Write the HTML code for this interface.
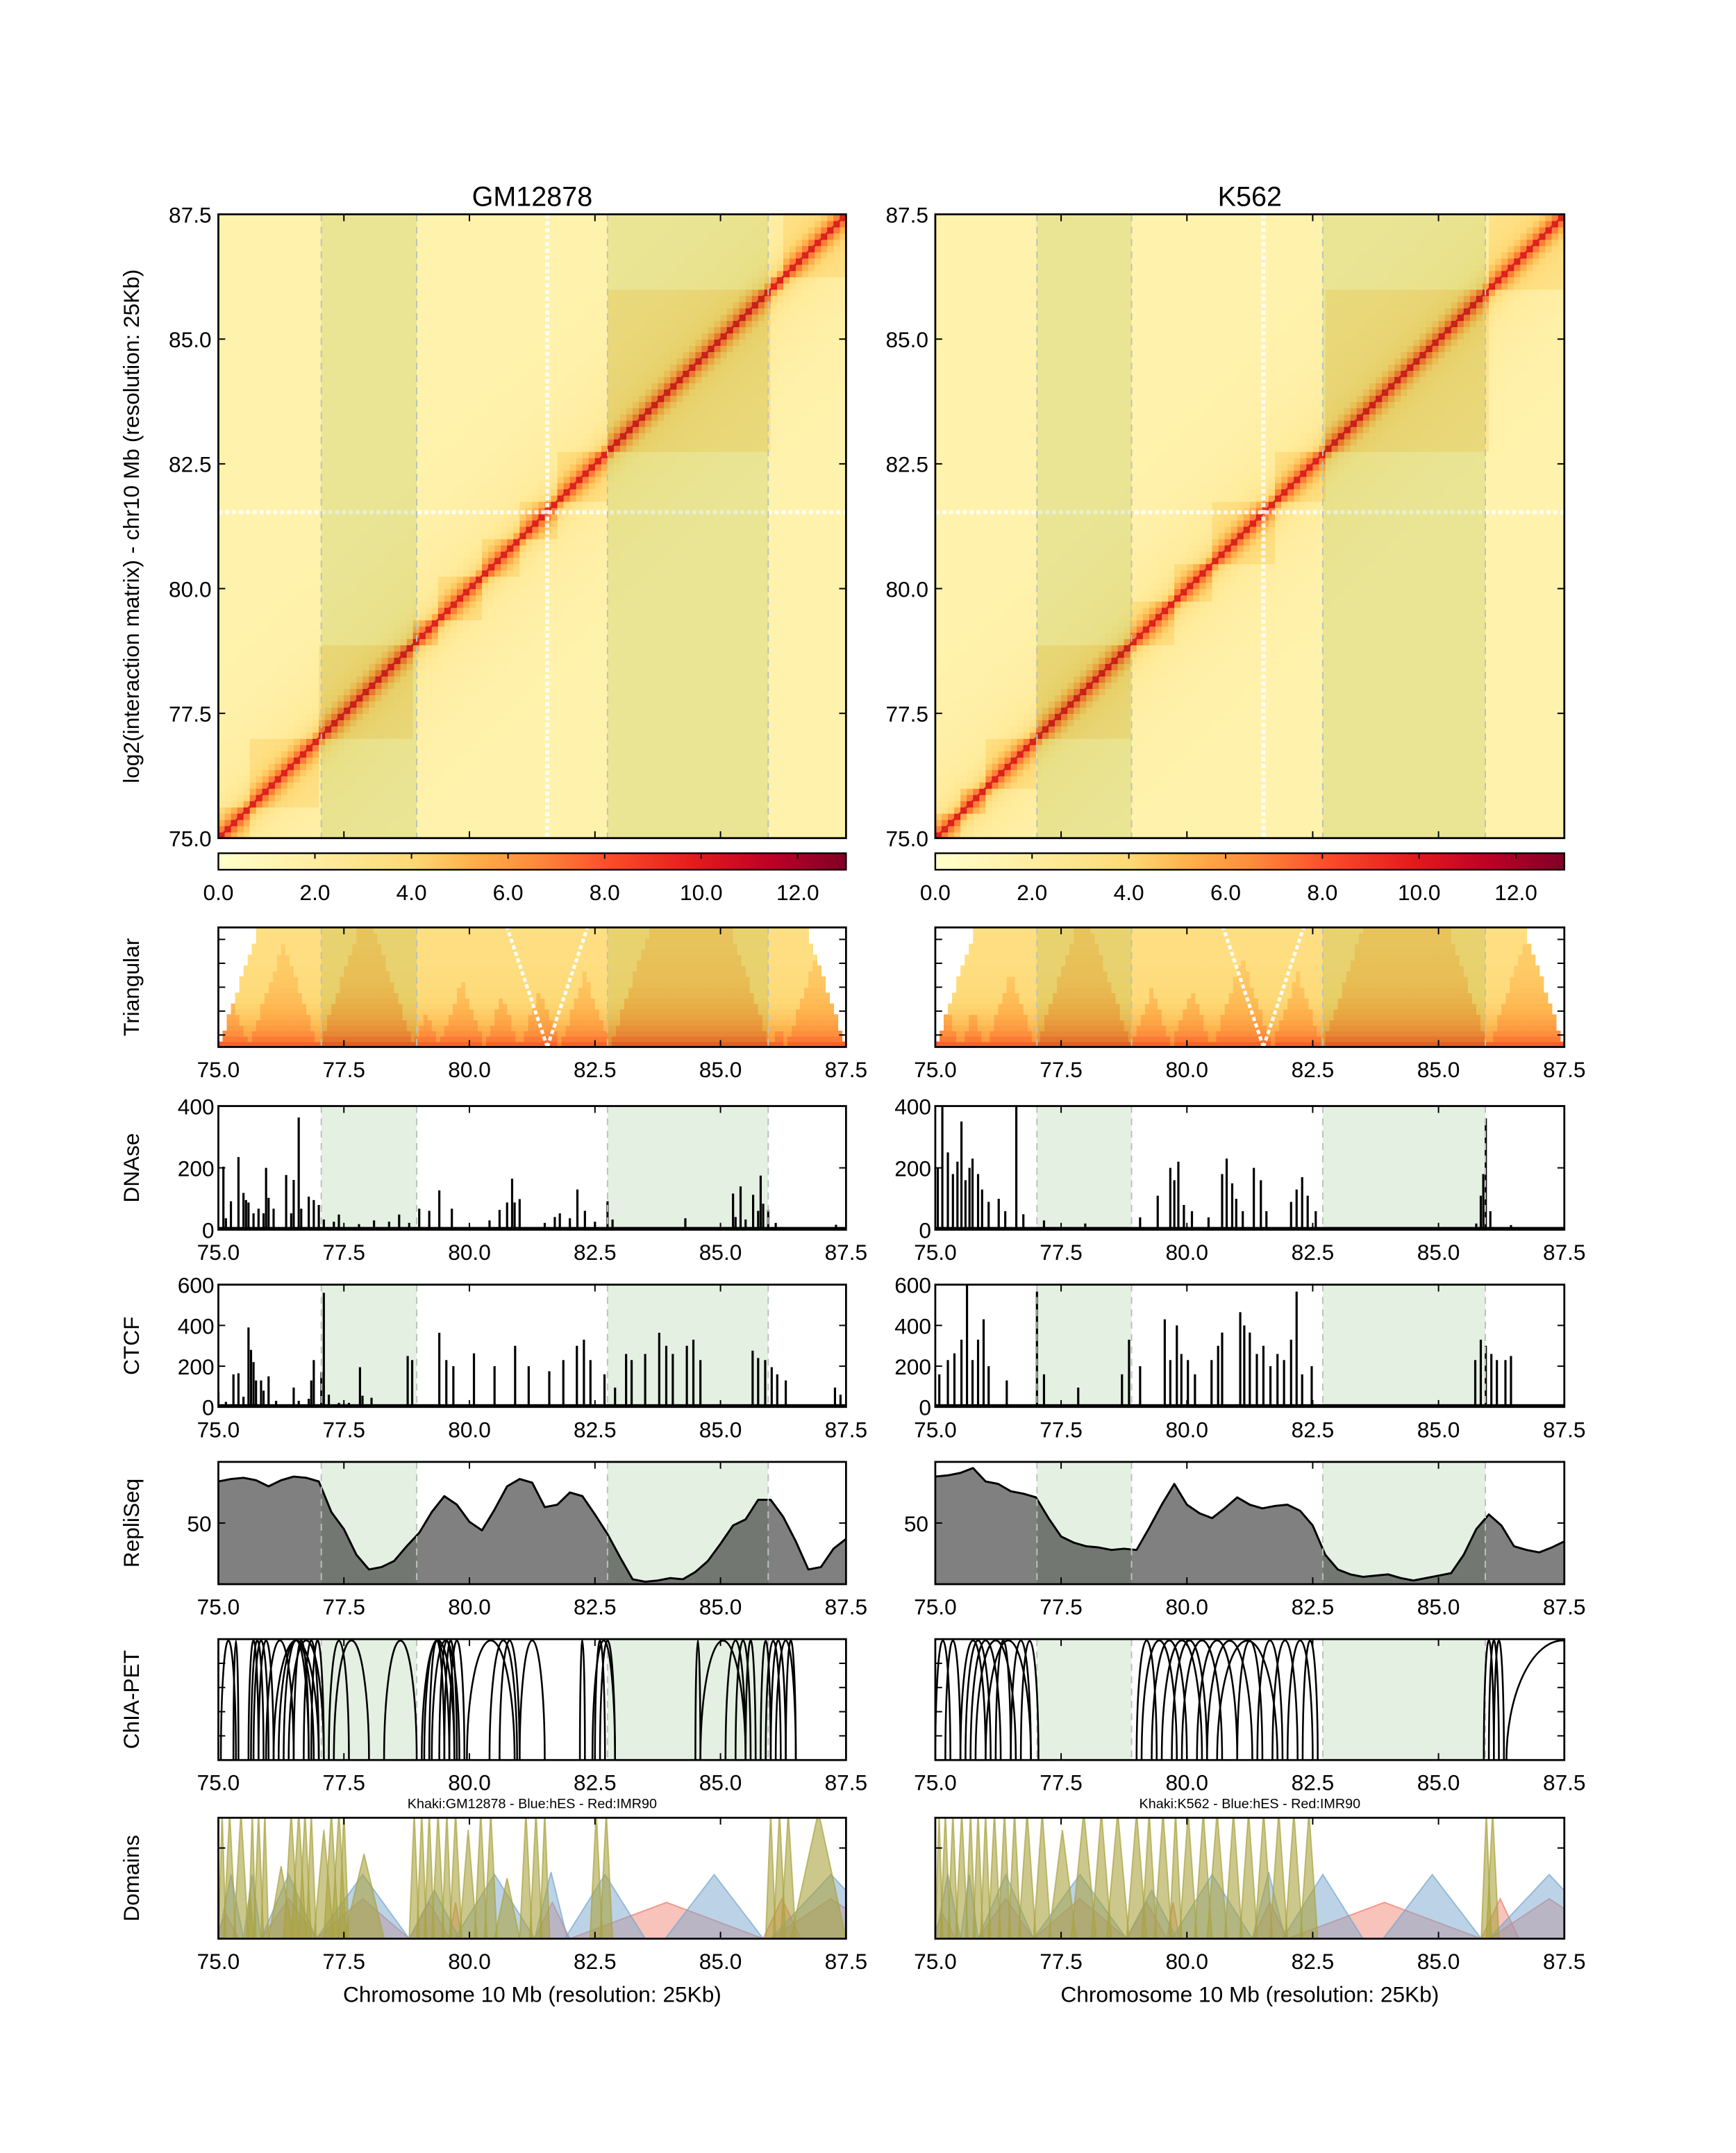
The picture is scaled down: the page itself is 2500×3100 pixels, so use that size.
<!DOCTYPE html>
<html><head><meta charset="utf-8">
<style>
html,body{margin:0;padding:0;background:#fff;}
svg{display:block;font-family:"Liberation Sans",Arial,sans-serif;}
</style></head>
<body>
<svg id="fig" xmlns="http://www.w3.org/2000/svg" width="2500" height="3100" viewBox="0 0 1264 1567" preserveAspectRatio="none">
<defs>
<linearGradient id="cbar" x1="0" x2="1" y1="0" y2="0">
<stop offset="0" stop-color="#ffffcc"/><stop offset="0.154" stop-color="#ffeda0"/><stop offset="0.308" stop-color="#fed976"/><stop offset="0.4" stop-color="#feb24c"/><stop offset="0.5" stop-color="#fd8d3c"/><stop offset="0.62" stop-color="#fc4e2a"/><stop offset="0.76" stop-color="#e31a1c"/><stop offset="0.88" stop-color="#bd0026"/><stop offset="1" stop-color="#800026"/>
</linearGradient>
</defs>
</svg>
<script>
// ---------------- data ----------------
const ticksMb = [75.0, 77.5, 80.0, 82.5, 85.0, 87.5];
const cbarTicks = [0, 2, 4, 6, 8, 10, 12];
const bandsGM = [[77.05, 78.95], [82.75, 85.95]];
const bandsK = [[77.02, 78.9], [82.7, 85.93]];
const tadsGM = [75.0, 75.6, 77.0, 78.9, 79.4, 80.3, 81.0, 81.8, 82.8, 86.0, 86.3, 87.5];
const tadsK = [75.0, 75.5, 76.0, 77.0, 78.9, 79.7, 80.5, 81.7, 82.7, 86.0, 87.5];
const stripeGM = [81.55, 81.53];
const stripeK = [81.52, 81.53];

const dnaseGMPos = [75.1,75.15,75.25,75.4,75.5,75.55,75.6,75.7,75.8,75.9,75.95,76.0,76.1,76.35,76.45,76.5,76.6,76.65,76.8,76.9,77.0,77.1,77.3,77.4,77.8,78.1,78.4,78.6,78.8,79.0,79.2,79.4,79.65,80.4,80.6,80.75,80.85,80.9,81.0,81.5,81.7,81.8,82.0,82.15,82.3,82.5,82.75,82.85,84.3,85.25,85.3,85.4,85.5,85.65,85.75,85.8,85.85,85.95,86.1,87.3];
const dnaseGMVal = [204,37,92,235,119,96,88,53,68,53,200,103,68,177,53,161,363,68,107,96,80,33,26,49,18,30,26,49,22,68,61,127,68,30,64,88,165,88,99,22,41,53,37,130,61,26,92,33,37,117,41,140,33,113,61,175,84,64,22,16];
const dnaseKPos = [75.05,75.14,75.25,75.35,75.44,75.52,75.6,75.68,75.74,75.85,75.93,76.06,76.26,76.39,76.61,76.75,77.16,77.98,79.07,79.42,79.67,79.75,79.83,79.94,80.1,80.43,80.7,80.79,80.9,80.98,81.11,81.33,81.47,81.58,82.07,82.18,82.29,82.4,82.56,85.75,85.84,85.89,85.94,86.03,86.44];
const dnaseKVal = [200,400,250,180,220,350,160,200,230,180,130,90,100,60,400,50,30,20,40,110,200,160,220,80,60,40,180,230,150,100,60,200,160,60,90,130,170,110,60,20,110,180,360,60,15];

const ctcfGMPos = [75.0,75.15,75.3,75.4,75.5,75.6,75.65,75.7,75.75,75.85,75.9,76.0,76.15,76.5,76.6,76.8,76.85,76.9,77.05,77.1,77.2,77.4,77.6,77.82,77.87,78.05,78.77,78.86,79.4,79.54,79.68,80.09,80.5,80.91,81.18,81.59,81.87,82.14,82.28,82.41,82.69,82.9,83.12,83.23,83.5,83.78,83.92,84.05,84.33,84.46,84.6,85.64,85.75,85.89,86.02,86.13,86.3,87.28,87.39];
const ctcfGMVal = [70,25,160,165,50,390,280,220,130,130,80,150,30,95,30,40,130,230,170,560,60,20,20,195,55,45,250,230,364,230,200,263,200,300,200,175,230,300,330,230,160,95,260,230,260,364,300,260,300,330,230,276,240,230,195,160,130,95,60];
const ctcfKPos = [75.08,75.25,75.38,75.52,75.63,75.74,75.85,75.96,76.06,76.42,77.02,77.16,77.84,78.71,78.85,79.07,79.56,79.67,79.8,79.89,80.02,80.16,80.49,80.62,80.7,81.06,81.14,81.25,81.39,81.52,81.66,81.8,81.93,82.07,82.18,82.29,82.48,85.73,85.84,85.94,86.05,86.16,86.33,86.44];
const ctcfKVal = [160,230,263,330,600,230,330,430,200,130,566,160,95,160,330,200,430,230,400,260,230,160,230,300,365,465,400,365,260,300,200,260,230,330,566,160,200,230,330,300,260,230,230,250];

const repliPos = [75.0,75.25,75.5,75.75,76.0,76.25,76.5,76.75,77.0,77.25,77.5,77.75,78.0,78.25,78.5,78.75,79.0,79.25,79.5,79.75,80.0,80.25,80.5,80.75,81.0,81.25,81.5,81.75,82.0,82.25,82.5,82.75,83.0,83.25,83.5,83.75,84.0,84.25,84.5,84.75,85.0,85.25,85.5,85.75,86.0,86.25,86.5,86.75,87.0,87.25,87.5];
const repliGM = [84,86,87,85,80,85,88,87,84,59,45,24,12,14,19,31,42,59,72,65,51,44,61,80,86,83,63,65,75,72,57,41,22,4,2,3,5,4,10,19,33,48,53,69,69,55,35,12,14,29,37];
const repliK = [88,89,91,95,84,82,76,74,71,54,39,34,31,30,28,29,28,46,65,82,65,58,54,62,71,65,62,64,65,60,48,24,12,8,6,7,8,5,3,5,7,9,24,45,57,48,31,28,26,30,35];

const chiaGM = [[75.05,75.35],[75.3,75.4],[75.6,75.8],[75.65,75.9],[75.7,76.0],[75.8,76.1],[75.95,76.5],[76.1,77.0],[76.2,76.9],[76.3,76.8],[76.4,77.1],[76.5,76.8],[76.7,77.0],[76.85,77.1],[77.2,77.6],[77.3,78.0],[78.3,78.95],[79.05,79.7],[79.1,79.6],[79.2,79.5],[79.25,79.8],[79.4,79.7],[79.5,79.75],[79.6,79.9],[79.95,80.9],[80.4,80.95],[80.6,81.0],[81.0,81.5],[82.2,82.3],[82.45,82.9],[82.5,82.7],[82.6,82.9],[84.5,84.6],[84.6,85.5],[85.1,85.5],[85.3,85.6],[85.5,85.7],[85.8,86.0],[85.9,86.2],[86.0,86.3],[86.1,86.5],[86.3,86.5]];
const chiaK = [[75.0,75.3],[75.2,75.5],[75.5,76.0],[75.6,76.1],[75.7,76.3],[75.8,76.6],[76.0,76.9],[76.2,76.5],[76.5,76.9],[76.7,77.05],[79.0,79.4],[79.1,79.8],[79.3,80.0],[79.5,80.3],[79.7,80.4],[79.9,80.7],[80.2,81.0],[80.4,81.3],[80.6,81.8],[81.0,81.5],[81.4,81.9],[81.7,82.2],[82.0,82.5],[82.3,82.6],[85.9,86.1],[86.0,86.2],[86.1,86.3],[86.35,88.6]];

const khakiGM = [[75.0,75.15,1.05],[75.1,75.35,1.05],[75.3,75.6,1.05],[75.55,75.7,0.4],[75.6,75.75,1.05],[75.7,75.9,1.05],[75.85,76.0,1.05],[76.0,76.5,0.6],[76.3,76.6,1.05],[76.45,76.75,1.05],[76.6,76.85,1.05],[76.75,76.95,1.05],[76.9,77.3,0.9],[77.1,77.4,1.05],[77.25,77.55,1.05],[77.4,77.6,1.05],[77.5,78.3,0.7],[78.8,79.0,1.05],[78.95,79.15,1.05],[79.1,79.3,1.05],[79.25,79.5,1.05],[79.45,79.65,1.05],[79.6,79.85,1.05],[79.8,80.15,0.9],[80.1,80.35,1.05],[80.3,80.55,1.05],[80.5,81.0,0.5],[81.0,81.25,1.05],[81.2,81.45,1.05],[81.4,81.6,1.05],[82.4,82.65,1.05],[82.6,82.85,1.05],[85.9,86.1,1.05],[86.05,86.3,1.05],[86.2,86.5,1.05],[86.4,87.5,1.05]];
const khakiK = [[75.0,75.15,1.05],[75.1,75.3,1.05],[75.25,75.45,1.05],[75.4,75.65,1.05],[75.6,75.8,1.05],[75.75,75.95,1.05],[75.9,76.1,1.05],[76.05,76.3,1.05],[76.25,76.5,1.05],[76.45,76.7,1.05],[76.65,77.0,1.05],[76.95,77.3,1.05],[77.25,77.8,0.9],[77.7,78.2,1.05],[78.1,78.5,1.05],[78.4,78.85,1.05],[78.8,79.2,1.05],[79.1,79.4,1.05],[79.35,79.7,1.05],[79.65,79.9,1.05],[79.85,80.2,1.05],[80.15,80.5,1.05],[80.4,80.8,1.05],[80.75,81.1,1.05],[81.05,81.4,1.05],[81.35,81.7,1.05],[81.65,82.0,1.05],[81.95,82.3,1.05],[82.25,82.6,1.05],[85.85,86.05,1.05],[85.95,86.2,1.05]];
const blueDom = [[75.0,75.5,0.53],[75.5,75.85,0.53],[75.85,76.95,0.53],[76.95,78.8,0.53],[78.8,79.8,0.4],[79.7,81.3,0.53],[81.3,81.95,0.55],[81.9,83.5,0.53],[83.9,85.85,0.53],[86.0,88.4,0.53]];
const redDom = [[74.9,75.4,0.2],[75.85,76.95,0.33],[76.95,78.8,0.33],[78.8,79.6,0.3],[79.6,79.85,0.3],[81.3,82.0,0.3],[82.0,85.85,0.3],[85.85,86.6,0.33],[86.0,88.4,0.33]];

// ---------------- layout ----------------
const NS = 'http://www.w3.org/2000/svg';
const svg = document.getElementById('fig');
function el(tag, attrs, parent) {
  const e = document.createElementNS(NS, tag);
  for (const k in attrs) e.setAttribute(k, attrs[k]);
  (parent || svg).appendChild(e);
  return e;
}
function txt(s, x, y, size, anchor, parent) {
  const t = el('text', {x: x, y: y, 'font-size': size, 'text-anchor': anchor || 'middle', fill: '#000'}, parent);
  t.textContent = s;
  return t;
}
const stops = [[0,[255,255,204]],[2,[255,237,160]],[4,[254,217,118]],[5.2,[254,178,76]],[6.5,[253,141,60]],[8,[252,78,42]],[9.9,[227,26,28]],[11.4,[189,0,38]],[13,[128,0,38]]];
function color(v) {
  v = Math.max(0, Math.min(13, v));
  for (let i = 1; i < stops.length; i++) {
    if (v <= stops[i][0]) {
      const a = stops[i-1], b = stops[i], t = (v - a[0]) / (b[0] - a[0]);
      return 'rgb(' + [0,1,2].map(k => Math.round(a[1][k] + t * (b[1][k] - a[1][k]))).join(',') + ')';
    }
  }
  return 'rgb(128,0,38)';
}
function tadIndex(m, tads) { for (let i = 1; i < tads.length; i++) if (m <= tads[i]) return i; return tads.length - 1; }
function hic(a, b, tads) {
  const d = Math.abs(a - b);
  let v = 1.4 + 5.8 * Math.exp(-d / 0.18) + 1.4 * Math.exp(-d / 1.2);
  if (tadIndex(a, tads) === tadIndex(b, tads)) v += 1.3;
  return v;
}
function tri(a, b, tads) {
  const d = Math.abs(a - b);
  let v = 3.4 + 3.6 * Math.exp(-d / 0.35);
  if (tadIndex(a, tads) === tadIndex(b, tads)) v += 0.9;
  return v;
}

const panels = [
  {key: 'gm', title: 'GM12878', x0: 159, x1: 616, tads: tadsGM, bands: bandsGM, stripe: stripeGM,
   dPos: dnaseGMPos, dVal: dnaseGMVal, cPos: ctcfGMPos, cVal: ctcfGMVal, repli: repliGM, chia: chiaGM, khaki: khakiGM, caption: 'Khaki:GM12878 - Blue:hES - Red:IMR90'},
  {key: 'k562', title: 'K562', x0: 681, x1: 1139, tads: tadsK, bands: bandsK, stripe: stripeK,
   dPos: dnaseKPos, dVal: dnaseKVal, cPos: ctcfKPos, cVal: ctcfKVal, repli: repliK, chia: chiaK, khaki: khakiK, caption: 'Khaki:K562 - Blue:hES - Red:IMR90'}
];
const HM = [156, 610], CB = [621, 633];
const tracks = {tri: [675, 762], dnase: [805, 895], ctcf: [935, 1024], repli: [1064, 1153], chia: [1193, 1281], dom: [1323, 1411]};

let clipId = 0;
function clip(x0, y0, x1, y1) {
  const id = 'c' + (clipId++);
  const cp = el('clipPath', {id: id});
  el('rect', {x: x0, y: y0, width: x1 - x0, height: y1 - y0}, cp);
  return 'url(#' + id + ')';
}
function frame(g, x0, y0, x1, y1, xt, yt) {
  el('rect', {x: x0, y: y0, width: x1 - x0, height: y1 - y0, fill: 'none', stroke: '#000', 'stroke-width': 1.4}, g);
  const xs = m => x0 + (m - 75) / 12.5 * (x1 - x0);
  if (xt) ticksMb.forEach(m => {
    el('line', {x1: xs(m), x2: xs(m), y1: y1, y2: y1 - 5, stroke: '#000', 'stroke-width': 1}, g);
    el('line', {x1: xs(m), x2: xs(m), y1: y0, y2: y0 + 5, stroke: '#000', 'stroke-width': 1}, g);
  });
  (yt || []).forEach(y => {
    el('line', {x1: x0, x2: x0 + 5, y1: y, y2: y, stroke: '#000', 'stroke-width': 1}, g);
    el('line', {x1: x1, x2: x1 - 5, y1: y, y2: y, stroke: '#000', 'stroke-width': 1}, g);
  });
}
function xLabels(g, x0, x1, yb) {
  const xs = m => x0 + (m - 75) / 12.5 * (x1 - x0);
  ticksMb.forEach(m => {
    const t = txt(m.toFixed(1), xs(m), yb + 22, 16, 'middle', g);
    
    
  });
}
function bands(g, p, y0, y1, fill) {
  const xs = m => p.x0 + (m - 75) / 12.5 * (p.x1 - p.x0);
  p.bands.forEach(b => {
    const r = el('rect', {x: xs(b[0]), y: y0, width: xs(b[1]) - xs(b[0]), height: y1 - y0, fill: fill, style: 'mix-blend-mode:multiply'}, g);
    
    
    [b[0], b[1]].forEach(m => el('line', {x1: xs(m), x2: xs(m), y1: y0, y2: y1, stroke: '#b8c4b8', 'stroke-width': 1, 'stroke-dasharray': '5 4'}, g));
  });
}
function yLabel(s, x, yc, size) {
  const t = el('text', {x: 0, y: 0, 'font-size': size || 16, 'text-anchor': 'middle', transform: 'translate(' + x + ',' + yc + ') rotate(-90)'});
  t.textContent = s;
  return t;
}

[['log2(interaction matrix) - chr10 Mb (resolution: 25Kb)', (HM[0] + HM[1]) / 2, 'heatmap-y-title'],
 ['Triangular', (tracks.tri[0] + tracks.tri[1]) / 2, 'triangular-label'],
 ['DNAse', (tracks.dnase[0] + tracks.dnase[1]) / 2, 'dnase-label'],
 ['CTCF', (tracks.ctcf[0] + tracks.ctcf[1]) / 2, 'ctcf-label'],
 ['RepliSeq', (tracks.repli[0] + tracks.repli[1]) / 2, 'repliseq-label'],
 ['ChIA-PET', (tracks.chia[0] + tracks.chia[1]) / 2, 'chiapet-label'],
 ['Domains', (tracks.dom[0] + tracks.dom[1]) / 2, 'domains-label']].forEach(l => {
  const t = yLabel(l[0], 101, l[1], 16);
  
  
});

panels.forEach(p => {
  const W = p.x1 - p.x0;
  const xs = m => p.x0 + (m - 75) / 12.5 * W;
  const root = el('g', {});
  
  

  const ttl = txt(p.title, (p.x0 + p.x1) / 2, 150, 20, 'middle', root);
  
  

  // ---- heatmap ----
  const hg = el('g', {'clip-path': clip(p.x0, HM[0], p.x1, HM[1])}, root);
  
  
  const ys = m => HM[1] - (m - 75) / 12.5 * (HM[1] - HM[0]);
  const N = 100, st = 12.5 / N;
  for (let i = 0; i < N; i++) for (let j = 0; j < N; j++) {
    const a = 75 + (i + 0.5) * st, b = 75 + (j + 0.5) * st;
    const r = el('rect', {x: xs(75 + i * st), y: ys(75 + (j + 1) * st), width: W / N + 0.4, height: (HM[1] - HM[0]) / N + 0.4, fill: color(hic(a, b, p.tads))}, hg);
    
    
  }
  const dg = el('line', {x1: xs(75), y1: ys(75), x2: xs(87.5), y2: ys(87.5), stroke: '#d42a1c', 'stroke-width': 1.6}, hg);
  
  
  el('line', {x1: xs(p.stripe[0]), x2: xs(p.stripe[0]), y1: HM[0], y2: HM[1], stroke: '#fff', 'stroke-width': 3, 'stroke-dasharray': '3 2', opacity: 0.85}, hg);
  el('line', {x1: p.x0, x2: p.x1, y1: ys(p.stripe[1]), y2: ys(p.stripe[1]), stroke: '#fff', 'stroke-width': 3, 'stroke-dasharray': '3 2', opacity: 0.85}, hg);
  bands(hg, p, HM[0], HM[1], '#e9f2dc');
  frame(root, p.x0, HM[0], p.x1, HM[1], true, ticksMb.map(ys));
  ticksMb.forEach(m => {
    const t = txt(m.toFixed(1), p.x0 - 5, ys(m) + 6, 16, 'end', root);
    
    
  });

  // ---- colorbar ----
  const cb = el('rect', {x: p.x0, y: CB[0], width: W, height: CB[1] - CB[0], fill: 'url(#cbar)', stroke: '#000', 'stroke-width': 1.2}, root);
  
  
  cbarTicks.forEach(v => {
    const x = p.x0 + v / 13 * W;
    el('line', {x1: x, x2: x, y1: CB[0], y2: CB[0] + 4, stroke: '#000', 'stroke-width': 1}, root);
    const t = txt(v.toFixed(1), x, 655, 16, 'middle', root);
    
    
  });

  // ---- triangular ----
  const T = tracks.tri, TH = T[1] - T[0];
  const tg = el('g', {'clip-path': clip(p.x0, T[0], p.x1, T[1])}, root);
  
  
  const NC = 150, NR = 22, DMAX = 1.6;
  for (let i = 0; i < NC; i++) for (let r = 0; r < NR; r++) {
    const c = 75 + (i + 0.5) * 12.5 / NC, d = (r + 0.5) / NR * DMAX;
    const a = c - d / 2, b = c + d / 2;
    if (a < 75 || b > 87.5) continue;
    const rc = el('rect', {x: xs(75 + i * 12.5 / NC), y: T[1] - (r + 1) / NR * TH, width: W / NC + 0.4, height: TH / NR + 0.4, fill: color(tri(a, b, p.tads))}, tg);
    
    
  }
  const sm = p.stripe[0];
  el('line', {x1: xs(sm), y1: T[1], x2: xs(sm - DMAX / 2), y2: T[0], stroke: '#fff', 'stroke-width': 2.5, 'stroke-dasharray': '3 2'}, tg);
  el('line', {x1: xs(sm), y1: T[1], x2: xs(sm + DMAX / 2), y2: T[0], stroke: '#fff', 'stroke-width': 2.5, 'stroke-dasharray': '3 2'}, tg);
  bands(tg, p, T[0], T[1], '#e9f2dc');
  frame(root, p.x0, T[0], p.x1, T[1], true, [0.1, 0.3, 0.5, 0.7, 0.9].map(f => T[0] + f * TH));
  xLabels(root, p.x0, p.x1, T[1]);

  // ---- bar tracks ----
  function barTrack(Y, pos, val, max, yticks, name) {
    const g = el('g', {'clip-path': clip(p.x0, Y[0], p.x1, Y[1])}, root);
    
    
    const yv = v => Y[1] - v / max * (Y[1] - Y[0]);
    el('rect', {x: p.x0, y: Y[1] - 2, width: W, height: 2, fill: '#000'}, g);
    pos.forEach((m, i) => {
      const b = el('rect', {x: xs(m) - 0.8, y: yv(val[i]), width: 1.6, height: Y[1] - yv(val[i]), fill: '#000'}, g);
      
      
    });
    bands(g, p, Y[0], Y[1], '#e4f0e2');
    frame(root, p.x0, Y[0], p.x1, Y[1], true, yticks.map(yv));
    yticks.forEach(v => {
      const t = txt(String(v), p.x0 - 3, yv(v) + 6, 16, 'end', root);
      
      
    });
    xLabels(root, p.x0, p.x1, Y[1]);
  }
  barTrack(tracks.dnase, p.dPos, p.dVal, 400, [0, 200, 400], 'dnase');
  barTrack(tracks.ctcf, p.cPos, p.cVal, 600, [0, 200, 400, 600], 'ctcf');

  // ---- repliseq ----
  const R = tracks.repli;
  const ry = v => R[1] - v / 100 * (R[1] - R[0]);
  const rg = el('g', {'clip-path': clip(p.x0, R[0], p.x1, R[1])}, root);
  
  
  let d = '';
  repliPos.forEach((m, i) => { d += (i ? 'L' : 'M') + xs(m).toFixed(2) + ',' + ry(p.repli[i]).toFixed(2); });
  const area = el('path', {d: d + 'L' + xs(87.5) + ',' + R[1] + 'L' + xs(75) + ',' + R[1] + 'Z', fill: '#808080', stroke: 'none'}, rg);
  
  
  const ln = el('path', {d: d, fill: 'none', stroke: '#000', 'stroke-width': 1.5, 'stroke-linejoin': 'round'}, rg);
  
  
  bands(rg, p, R[0], R[1], '#e4f0e2');
  frame(root, p.x0, R[0], p.x1, R[1], true, [ry(50)]);
  const t50 = txt('50', p.x0 - 5, ry(50) + 6, 16, 'end', root);
  
  
  xLabels(root, p.x0, p.x1, R[1]);

  // ---- ChIA-PET ----
  const C = tracks.chia, CH = C[1] - C[0];
  const cg = el('g', {'clip-path': clip(p.x0, C[0], p.x1, C[1])}, root);
  
  
  bands(cg, p, C[0], C[1], '#e4f0e2');
  p.chia.forEach(pr => {
    const a = xs(pr[0]), b = xs(pr[1]);
    const arc = el('path', {d: 'M' + a + ',' + C[1] + ' A' + ((b - a) / 2) + ',' + (CH - 1) + ' 0 0 1 ' + b + ',' + C[1], fill: 'none', stroke: '#000', 'stroke-width': 1.3}, cg);
    
    
  });
  frame(root, p.x0, C[0], p.x1, C[1], true, [0.2, 0.4, 0.6, 0.8].map(f => C[0] + f * CH));
  xLabels(root, p.x0, p.x1, C[1]);
  const cap = txt(p.caption, (p.x0 + p.x1) / 2, 1316, 10, 'middle', root);
  
  

  // ---- domains ----
  const D = tracks.dom, DH = D[1] - D[0];
  const og = el('g', {'clip-path': clip(p.x0, D[0], p.x1, D[1])}, root);
  
  
  function triDom(list, fill, op, name) {
    list.forEach(q => {
      const a = xs(q[0]), b = xs(q[1]), h = D[1] - q[2] * DH;
      const pg = el('polygon', {points: a + ',' + D[1] + ' ' + ((a + b) / 2) + ',' + h + ' ' + b + ',' + D[1], fill: fill, 'fill-opacity': op, stroke: fill, 'stroke-opacity': 0.7, 'stroke-width': 1}, og);
      
      
    });
  }
  triDom(redDom, '#f07a66', 0.45, 'imr90-domain');
  triDom(blueDom, '#79a7cf', 0.5, 'hes-domain');
  triDom(p.khaki, '#aaa43f', 0.6, 'khaki-domain');
  frame(root, p.x0, D[0], p.x1, D[1], true, [D[0] + 0.25 * DH]);
  xLabels(root, p.x0, p.x1, D[1]);
  const xt = txt('Chromosome 10 Mb (resolution: 25Kb)', (p.x0 + p.x1) / 2, 1457, 16, 'middle', root);
  
  
});
</script>
</body></html>
